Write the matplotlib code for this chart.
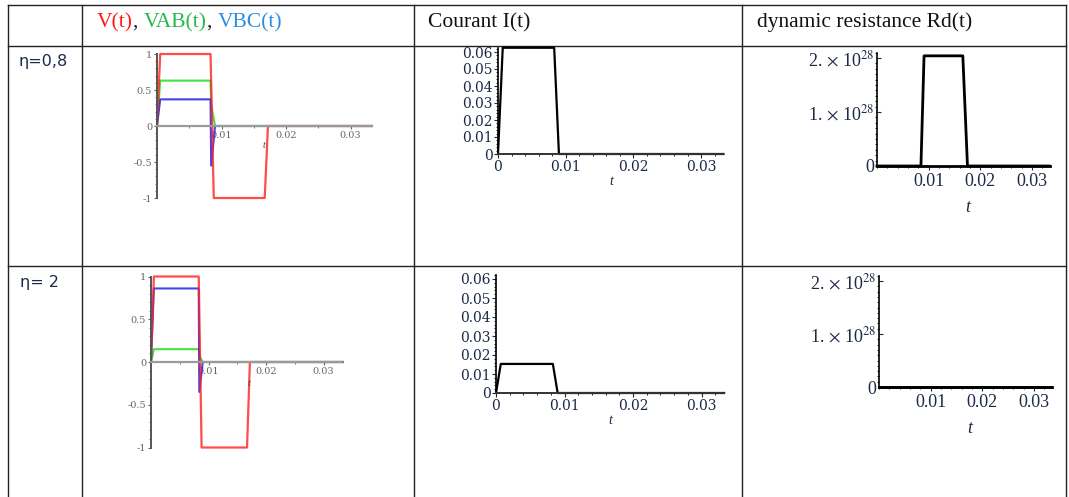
import matplotlib.pyplot as plt
from matplotlib.ticker import AutoMinorLocator, FixedLocator

W, H = 1069, 497

# time grid of the piecewise signals (s)
T_V = [0, 0.0005, 0.0083, 0.0088, 0.0167, 0.0172, 0.0333]
V_SRC = [0, 1, 1, -1, -1, 0, 0]

T_PART = [0, 0.0005, 0.0083, 0.0084, 0.0090, 0.0333]
VAB_08 = [0, 0.63, 0.63, 0.30, 0, 0]
VBC_08 = [0, 0.37, 0.37, -0.55, 0, 0]
VAB_2 = [0, 0.15, 0.15, 0.07, 0, 0]
VBC_2 = [0, 0.86, 0.86, -0.35, 0, 0]

T_I = [0, 0.0007, 0.0083, 0.0090, 0.0333]
I_08 = [0, 0.0625, 0.0625, 0, 0]
I_2 = [0, 0.0153, 0.0153, 0, 0]

T_RD = [0, 0.0085, 0.0091, 0.0166, 0.0175, 0.0333]
RD_08 = [0, 0, 2.04e28, 2.04e28, 0, 0]
RD_2 = [0, 0, 0, 0, 0, 0]

ROW_LABELS = ["η=0,8", "η= 2"]
HEADERS = ["Courant I(t)", "dynamic resistance Rd(t)"]

SERIF = "Liberation Serif"
WIDE_SERIF = "DejaVu Serif"
TICK_COLOR = "#1c2a48"
plt.rcParams["font.family"] = [SERIF, "DejaVu Serif"]
plt.rcParams["mathtext.fontset"] = "stix"


def place(fig, x0, x_per, xlim, y0, y_per, ylim):
    left = x0 + xlim[0] * x_per
    width = (xlim[1] - xlim[0]) * x_per
    top = y0 - ylim[1] * y_per
    height = (ylim[1] - ylim[0]) * y_per
    ax = fig.add_axes([left / W, 1 - (top + height) / H, width / W, height / H])
    ax.set_xlim(*xlim)
    ax.set_ylim(*ylim)
    ax.patch.set_alpha(0)
    for side in ("top", "right"):
        ax.spines[side].set_visible(False)
    return ax


def voltage_plot(fig, x0, x_per, y0, y_per, vab, vbc, t_xy):
    ax = place(fig, x0, x_per, (0, 0.0333), y0, y_per, (-1, 1))
    ax.spines["bottom"].set_position(("data", 0))
    ax.spines["bottom"].set_color("#9a9a9a")
    ax.spines["bottom"].set_linewidth(1.6)
    ax.spines["left"].set_color("#555555")
    ax.spines["left"].set_linewidth(1.4)
    ax.plot(T_PART, vab, color="#22dd22", lw=1.5, alpha=0.85, clip_on=False)
    ax.plot(T_PART, vbc, color="#2222ee", lw=1.5, alpha=0.85, clip_on=False)
    ax.plot(T_V, V_SRC, color="#ff2020", lw=1.6, alpha=0.8, clip_on=False)
    ax.set_xticks([0.01, 0.02, 0.03], ["0.01", "0.02", "0.03"])
    ax.set_yticks([-1, -0.5, 0, 0.5, 1], ["-1", "-0.5", "0", "0.5", "1"])
    ax.xaxis.set_minor_locator(FixedLocator([0.005, 0.015, 0.025]))
    ax.yaxis.set_minor_locator(AutoMinorLocator(5))
    ax.tick_params(labelsize=7, colors="#666666", length=2.5, width=0.8, pad=1)
    ax.tick_params(which="minor", length=1.5, color="#666666")
    for lab in ax.get_xticklabels() + ax.get_yticklabels():
        lab.set_family(WIDE_SERIF)
    ax.text(t_xy[0], t_xy[1], "t", fontsize=7, style="italic", color="#444444")


def current_plot(fig, x0, x_per, y0, y_per, values, ylim):
    ax = place(fig, x0, x_per, (0, 0.0333), y0, y_per, ylim)
    ax.spines["left"].set_linewidth(1.2)
    ax.spines["bottom"].set_linewidth(1.4)
    ax.spines["bottom"].set_color("#333333")
    ax.plot(T_I, values, color="black", lw=1.6, clip_on=False)
    ax.set_xticks([0, 0.01, 0.02, 0.03], ["0", "0.01", "0.02", "0.03"])
    ticks = [0, 0.01, 0.02, 0.03, 0.04, 0.05, 0.06]
    ax.set_yticks(ticks, ["0"] + [f"{v:.2f}" for v in ticks[1:]])
    ax.xaxis.set_minor_locator(AutoMinorLocator(5))
    ax.yaxis.set_minor_locator(AutoMinorLocator(5))
    ax.tick_params(labelsize=10, colors=TICK_COLOR, length=3, width=0.8, pad=1)
    ax.tick_params(which="minor", length=1.5)
    for lab in ax.get_xticklabels() + ax.get_yticklabels():
        lab.set_family(WIDE_SERIF)
    ax.annotate("t", xy=(0.0167, 0), xytext=(0, -15), textcoords="offset points",
                fontsize=10, style="italic", ha="center", va="top", color=TICK_COLOR)


def resistance_plot(fig, x0, x_per, y0, y_per, values):
    ax = place(fig, x0, x_per, (0, 0.0334), y0, y_per, (0, 2.1e28))
    ax.spines["left"].set_linewidth(1.2)
    ax.spines["bottom"].set_linewidth(2.0)
    ax.plot(T_RD, values, color="black", lw=2.0, clip_on=False)
    ax.set_xticks([0.01, 0.02, 0.03], ["0.01", "0.02", "0.03"])
    ax.set_yticks([0, 1e28, 2e28],
                  ["0", r"1. $\times$ 10$^{28}$", r"2. $\times$ 10$^{28}$"])
    ax.xaxis.set_minor_locator(AutoMinorLocator(5))
    ax.yaxis.set_minor_locator(AutoMinorLocator(10))
    ax.tick_params(axis="y", direction="in")
    ax.tick_params(labelsize=13, colors=TICK_COLOR, length=3, width=0.8, pad=2)
    ax.tick_params(which="minor", length=1.5)
    ax.annotate("t", xy=(0.0175, 0), xytext=(0, -24), textcoords="offset points",
                fontsize=13, style="italic", ha="center", va="top", color=TICK_COLOR)


fig = plt.figure(figsize=(W / 100, H / 100), dpi=100)
fig.patch.set_facecolor("white")

# table grid, in pixel units over the whole figure
grid = fig.add_axes([0, 0, 1, 1])
grid.set_xlim(0, W)
grid.set_ylim(H, 0)
grid.axis("off")
for x in (8, 82, 414, 742, 1066):
    grid.plot([x, x], [5, H], color="#222222", lw=1.0)
for y in (5, 46, 266):
    grid.plot([8, 1066], [y, y], color="#222222", lw=1.0)

# header
hx, hy = 97, 27
pieces = [("V(t)", "#ff1a1a"), (", ", "#222222"), ("VAB(t)", "#22b84a"),
          (", ", "#222222"), ("VBC(t)", "#2a8de0")]
renderer = fig.canvas.get_renderer()
for text, color in pieces:
    t = grid.text(hx, hy, text, fontsize=15.5, color=color, va="baseline")
    bb = t.get_window_extent(renderer=renderer)
    hx += bb.width
grid.text(428, hy, HEADERS[0], fontsize=15.5, color="#111111", va="baseline")
grid.text(757, hy, HEADERS[1], fontsize=15.5, color="#111111", va="baseline")
grid.text(18, 66, ROW_LABELS[0], fontsize=11.5, color="#1c2a48", va="baseline",
          family="DejaVu Sans")
grid.text(20, 287, ROW_LABELS[1], fontsize=11.5, color="#1c2a48", va="baseline",
          family="DejaVu Sans")

voltage_plot(fig, 157, 6450, 126, 72, VAB_08, VBC_08, (0.0163, -0.3))
voltage_plot(fig, 151, 5750, 362, 85.5, VAB_2, VBC_2, (0.0168, -0.28))

current_plot(fig, 498, 6770, 154, 1700, I_08, (0, 0.0625))
current_plot(fig, 496, 6850, 393, 1900, I_2, (0, 0.062))

resistance_plot(fig, 877, 5170, 166, 54 / 1e28, RD_08)
resistance_plot(fig, 879, 5170, 387, 53 / 1e28, RD_2)

fig.savefig("out.png", dpi=100)
